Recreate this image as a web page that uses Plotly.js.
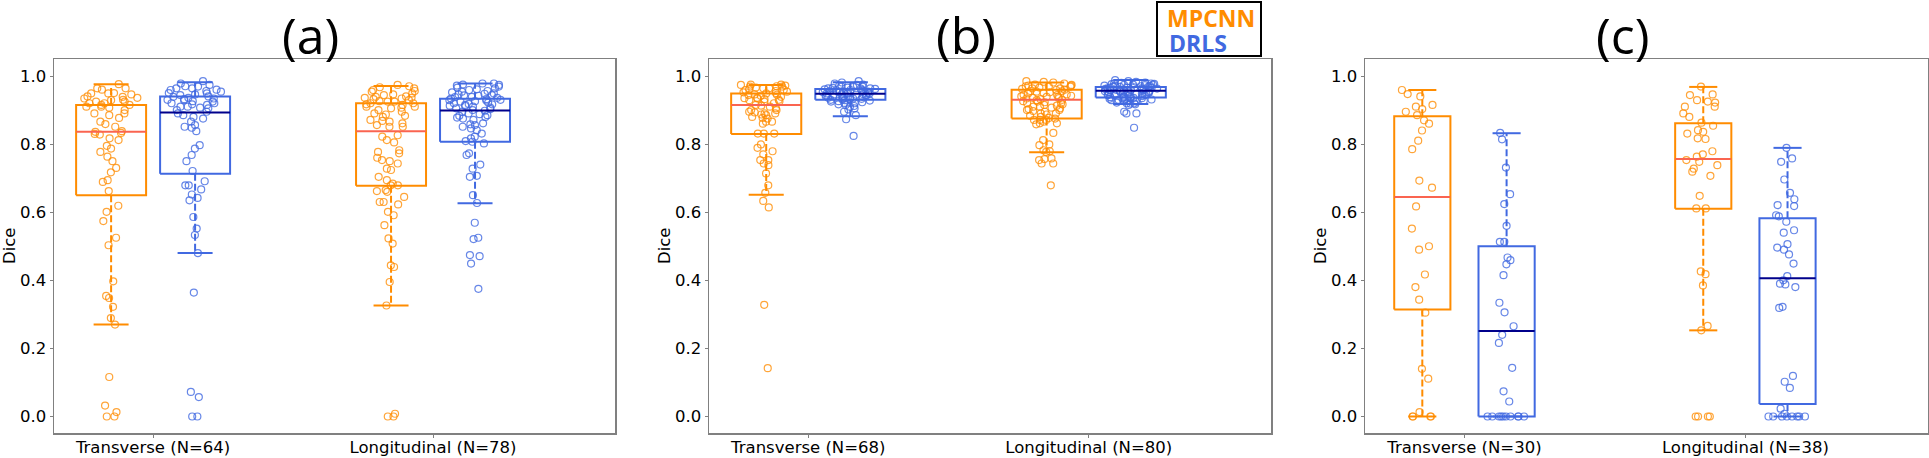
<!DOCTYPE html>
<html><head><meta charset="utf-8">
<script src="https://cdn.plot.ly/plotly-3.0.1.min.js"></script>
<style>html,body{margin:0;padding:0;background:#fff}#chart{width:1929px;height:458px}</style>
</head><body><div id="chart"></div>
<script>
// ---------------- DATA ----------------
const panelTitles = ['(a)', '(b)', '(c)'];
const catsA = ['Transverse (N=64)', 'Longitudinal (N=78)'];
const catsB = ['Transverse (N=68)', 'Longitudinal (N=80)'];
const catsC = ['Transverse (N=30)', 'Longitudinal (N=38)'];
const methods = ['MPCNN', 'DRLS'];
const yTicks = [0, 0.2, 0.4, 0.6, 0.8, 1.0];
const yTickLabels = ['0.0', '0.2', '0.4', '0.6', '0.8', '1.0'];

// box statistics: [lower whisker, Q1, median, Q3, upper whisker]
const a_trans_mpcnn_box = [0.27, 0.65, 0.836, 0.915, 0.976];
const a_trans_drls_box  = [0.48, 0.713, 0.893, 0.94, 0.982];
const a_long_mpcnn_box  = [0.326, 0.678, 0.838, 0.92, 0.971];
const a_long_drls_box   = [0.626, 0.807, 0.899, 0.933, 0.978];
const b_trans_mpcnn_box = [0.651, 0.83, 0.915, 0.949, 0.974];
const b_trans_drls_box  = [0.882, 0.93, 0.948, 0.962, 0.982];
const b_long_mpcnn_box  = [0.776, 0.875, 0.93, 0.96, 0.981];
const b_long_drls_box   = [0.918, 0.937, 0.957, 0.968, 0.988];
const c_trans_mpcnn_box = [0.0, 0.314, 0.645, 0.882, 0.959];
const c_trans_drls_box  = [0.0, 0.0, 0.251, 0.5, 0.832];
const c_long_mpcnn_box  = [0.253, 0.61, 0.756, 0.861, 0.968];
const c_long_drls_box   = [0.0, 0.037, 0.406, 0.582, 0.789];

// individual Dice scores
const a_trans_mpcnn = [0.976,0.964,0.964,0.949,0.949,0.946,0.939,0.936,0.934,0.929,0.925,0.925,0.92,0.915,0.915,0.91,0.907,0.90,0.89,0.89,0.885,0.877,0.866,0.859,0.851,0.838,0.836,0.833,0.828,0.817,0.812,0.795,0.787,0.777,0.763,0.75,0.73,0.717,0.694,0.689,0.662,0.619,0.601,0.574,0.525,0.503,0.397,0.348,0.354,0.322,0.289,0.27,0.116,0.032,0.013,0,0,0.94,0.93,0.92,0.91,0.96,0.95,0.83];
const a_trans_drls = [0.985,0.978,0.974,0.969,0.964,0.964,0.959,0.956,0.954,0.949,0.946,0.944,0.939,0.936,0.934,0.932,0.929,0.926,0.925,0.92,0.917,0.915,0.91,0.91,0.907,0.905,0.90,0.895,0.89,0.885,0.88,0.875,0.866,0.856,0.851,0.848,0.838,0.797,0.787,0.768,0.75,0.721,0.691,0.679,0.679,0.667,0.652,0.642,0.635,0.586,0.552,0.533,0.48,0.364,0.072,0.057,0,0,0.97,0.96,0.95,0.94,0.93,0.92];
const a_long_mpcnn = [0.974,0.967,0.964,0.959,0.956,0.954,0.949,0.946,0.944,0.939,0.936,0.936,0.934,0.932,0.929,0.926,0.925,0.925,0.92,0.92,0.917,0.915,0.91,0.91,0.907,0.905,0.90,0.895,0.89,0.887,0.883,0.88,0.871,0.868,0.866,0.861,0.856,0.851,0.851,0.826,0.822,0.812,0.805,0.782,0.777,0.773,0.76,0.753,0.75,0.743,0.728,0.724,0.704,0.694,0.684,0.679,0.679,0.665,0.662,0.66,0.645,0.63,0.63,0.623,0.601,0.591,0.562,0.523,0.508,0.444,0.439,0.395,0.326,0.008,0,0,0.97,0.94];
const a_long_drls = [0.978,0.978,0.975,0.974,0.972,0.969,0.966,0.964,0.961,0.959,0.956,0.954,0.952,0.949,0.946,0.944,0.942,0.939,0.936,0.934,0.932,0.929,0.926,0.925,0.92,0.917,0.915,0.913,0.91,0.907,0.905,0.90,0.895,0.89,0.885,0.883,0.88,0.875,0.871,0.861,0.858,0.856,0.851,0.846,0.841,0.831,0.822,0.817,0.809,0.807,0.802,0.773,0.768,0.74,0.728,0.707,0.704,0.65,0.627,0.569,0.525,0.521,0.474,0.471,0.449,0.375,0.948,0.943,0.938,0.93,0.928,0.922,0.918,0.912,0.903,0.898,0.888,0.878];
const b_trans_mpcnn = [0.975,0.975,0.974,0.972,0.969,0.969,0.966,0.964,0.964,0.961,0.959,0.956,0.954,0.952,0.949,0.946,0.944,0.942,0.939,0.936,0.934,0.932,0.929,0.926,0.925,0.92,0.915,0.913,0.905,0.90,0.90,0.895,0.893,0.89,0.887,0.885,0.88,0.877,0.875,0.866,0.866,0.831,0.831,0.831,0.799,0.789,0.779,0.77,0.753,0.753,0.743,0.738,0.714,0.679,0.657,0.633,0.614,0.328,0.142,0.97,0.96,0.95,0.945,0.935,0.93,0.91,0.89,0.86];
const b_trans_drls = [0.985,0.981,0.978,0.975,0.974,0.972,0.969,0.969,0.966,0.964,0.964,0.962,0.959,0.959,0.956,0.954,0.954,0.952,0.949,0.949,0.946,0.946,0.944,0.942,0.939,0.939,0.936,0.934,0.932,0.929,0.926,0.925,0.923,0.92,0.917,0.915,0.91,0.905,0.895,0.885,0.873,0.824,0.968,0.965,0.963,0.961,0.958,0.957,0.955,0.953,0.951,0.95,0.948,0.947,0.945,0.943,0.941,0.94,0.938,0.937,0.935,0.933,0.931,0.93,0.928,0.921,0.912,0.902];
const b_long_mpcnn = [0.985,0.983,0.981,0.978,0.975,0.974,0.972,0.972,0.969,0.969,0.966,0.964,0.964,0.962,0.959,0.956,0.954,0.952,0.949,0.946,0.944,0.942,0.939,0.939,0.936,0.934,0.932,0.929,0.926,0.925,0.923,0.92,0.917,0.915,0.913,0.91,0.907,0.905,0.903,0.90,0.897,0.895,0.89,0.887,0.883,0.88,0.877,0.875,0.871,0.871,0.871,0.866,0.861,0.861,0.858,0.833,0.812,0.799,0.797,0.782,0.779,0.777,0.758,0.756,0.753,0.743,0.743,0.679,0.97,0.96,0.955,0.95,0.945,0.94,0.935,0.93,0.92,0.91,0.90,0.89];
const b_long_drls = [0.988,0.985,0.983,0.981,0.978,0.978,0.975,0.975,0.974,0.972,0.972,0.969,0.969,0.967,0.966,0.966,0.964,0.964,0.962,0.959,0.959,0.956,0.956,0.954,0.954,0.952,0.949,0.949,0.946,0.944,0.944,0.942,0.939,0.936,0.934,0.934,0.932,0.929,0.926,0.925,0.92,0.92,0.917,0.915,0.895,0.89,0.89,0.848,0.98,0.977,0.976,0.973,0.971,0.97,0.968,0.965,0.963,0.961,0.96,0.958,0.957,0.955,0.953,0.951,0.95,0.948,0.947,0.945,0.943,0.941,0.94,0.938,0.937,0.935,0.933,0.931,0.93,0.928,0.922,0.919];
const c_trans_mpcnn = [0.959,0.94,0.947,0.91,0.915,0.903,0.895,0.885,0.87,0.86,0.84,0.81,0.785,0.693,0.672,0.617,0.552,0.5,0.49,0.417,0.38,0.343,0.305,0.14,0.111,0.013,0,0,0,0];
const c_trans_drls = [0.833,0.814,0.731,0.653,0.624,0.56,0.513,0.513,0.467,0.459,0.447,0.415,0.334,0.306,0.265,0.24,0.216,0.143,0.074,0.044,0,0,0,0,0,0,0,0,0,0];
const c_long_mpcnn = [0.969,0.946,0.944,0.929,0.925,0.922,0.91,0.91,0.89,0.88,0.863,0.854,0.841,0.836,0.831,0.817,0.815,0.779,0.77,0.763,0.753,0.748,0.738,0.728,0.719,0.707,0.648,0.611,0.611,0.426,0.418,0.385,0.266,0.253,0,0,0,0];
const c_long_drls = [0.789,0.758,0.748,0.696,0.657,0.638,0.621,0.618,0.591,0.588,0.572,0.547,0.54,0.506,0.496,0.49,0.476,0.449,0.412,0.40,0.39,0.388,0.38,0.319,0.322,0.119,0.102,0.084,0.023,0.008,0,0,0,0,0,0,0,0];

// ---------------- STYLE / LAYOUT ----------------
const W = 1929, H = 458;
const COL = {
  MPCNN: {line: '#FF8C00', pt: 'rgba(255,140,0,0.78)', med: '#FA6450', off: -0.15},
  DRLS:  {line: '#4169E1', pt: 'rgba(65,105,225,0.8)', med: '#00008B', off: 0.15}
};
const panels = [
  {cats: catsA, boxW: 0.25, MPCNN: [[a_trans_mpcnn, a_trans_mpcnn_box], [a_long_mpcnn, a_long_mpcnn_box]], DRLS: [[a_trans_drls, a_trans_drls_box], [a_long_drls, a_long_drls_box]]},
  {cats: catsB, boxW: 0.25, MPCNN: [[b_trans_mpcnn, b_trans_mpcnn_box], [b_long_mpcnn, b_long_mpcnn_box]], DRLS: [[b_trans_drls, b_trans_drls_box], [b_long_drls, b_long_drls_box]]},
  {cats: catsC, boxW: 0.2,  MPCNN: [[c_trans_mpcnn, c_trans_mpcnn_box], [c_long_mpcnn, c_long_mpcnn_box]], DRLS: [[c_trans_drls, c_trans_drls_box], [c_long_drls, c_long_drls_box]]}
];
const xPix = [[54, 615], [709, 1271], [1365, 1928]];
const yDom = [25 / H, 399 / H];

const traces = [];
const layout = {
  width: W, height: H, margin: {l: 0, r: 0, t: 0, b: 0},
  paper_bgcolor: '#fff', plot_bgcolor: '#fff', showlegend: false,
  boxmode: 'overlay', annotations: [], shapes: [],
  font: {family: 'DejaVu Sans', color: '#000'}
};

panels.forEach((p, k) => {
  const s = k === 0 ? '' : String(k + 1);
  const xa = 'x' + s, ya = 'y' + s;
  const dom = [xPix[k][0] / W, xPix[k][1] / W];
  layout['xaxis' + s] = {
    domain: dom, anchor: ya, range: [0.646, 2.65],
    tickmode: 'array', tickvals: [1, 2], ticktext: p.cats,
    showline: true, mirror: true, linecolor: '#808080', linewidth: 1.5,
    ticks: 'outside', ticklen: 3, tickcolor: '#808080', tickwidth: 1,
    ticklabelstandoff: -4,
    tickfont: {family: 'DejaVu Sans', size: 16.5, color: '#000'},
    showgrid: false, zeroline: false, fixedrange: true
  };
  layout['yaxis' + s] = {
    domain: yDom, anchor: xa, range: [-0.0485, 1.05],
    tickmode: 'array', tickvals: yTicks, ticktext: yTickLabels,
    showline: true, mirror: true, linecolor: '#808080', linewidth: 1.5,
    ticks: 'outside', ticklen: 3, tickcolor: '#808080', tickwidth: 1,
    tickfont: {family: 'DejaVu Sans', size: 16.5, color: '#000'},
    showgrid: false, zeroline: false, fixedrange: true
  };
  methods.forEach(m => {
    const c = COL[m];
    p[m].forEach(([pts, st], i) => {
      const cx = i + 1 + c.off, w = p.boxW;
      const [lo, q1, med, q3, hi] = st;
      traces.push({type: 'scatter', mode: 'lines', xaxis: xa, yaxis: ya, hoverinfo: 'skip',
        x: [cx - w / 2, cx + w / 2, cx + w / 2, cx - w / 2, cx - w / 2], y: [q1, q1, q3, q3, q1],
        line: {color: c.line, width: 2}});
      traces.push({type: 'scatter', mode: 'lines', xaxis: xa, yaxis: ya, hoverinfo: 'skip',
        x: [cx, cx, null, cx, cx], y: [q3, hi, null, q1, lo],
        line: {color: c.line, width: 2, dash: '7px,3px'}});
      traces.push({type: 'scatter', mode: 'lines', xaxis: xa, yaxis: ya, hoverinfo: 'skip',
        x: [cx - w / 4, cx + w / 4, null, cx - w / 4, cx + w / 4], y: [hi, hi, null, lo, lo],
        line: {color: c.line, width: 2}});
      traces.push({type: 'scatter', mode: 'lines', xaxis: xa, yaxis: ya, hoverinfo: 'skip',
        x: [cx - w / 2, cx + w / 2], y: [med, med],
        line: {color: c.med, width: 2}});
      traces.push({type: 'box', xaxis: xa, yaxis: ya, y: pts, x0: cx, width: w,
        boxpoints: 'all', jitter: 0.8, pointpos: 0, hoverinfo: 'skip',
        fillcolor: 'rgba(0,0,0,0)', line: {width: 0, color: 'rgba(0,0,0,0)'}, whiskerwidth: 0,
        marker: {symbol: 'circle-open', size: 7, color: c.pt, line: {width: 1.2, color: c.pt}}});
    });
  });
  const cxp = (xPix[k][0] + xPix[k][1]) / 2;
  layout.annotations.push({
    text: panelTitles[k], xref: 'paper', yref: 'paper', x: (cxp - 24) / W, y: 1,
    xanchor: 'center', yanchor: 'top', showarrow: false, borderpad: 0,
    font: {family: 'Open Sans', size: 50, color: '#000'}
  });
  layout.annotations.push({
    text: 'Dice', xref: 'paper', yref: 'paper', x: (xPix[k][0] - 45) / W, y: 1 - 246 / H,
    xanchor: 'center', yanchor: 'middle', textangle: -90, showarrow: false,
    font: {family: 'DejaVu Sans', size: 16.5, color: '#000'}
  });
});

layout.shapes.push({type: 'rect', xref: 'paper', yref: 'paper',
  x0: 1157 / W, x1: 1261 / W, y0: 1 - 56 / H, y1: 1 - 2 / H,
  line: {color: '#000', width: 2}, fillcolor: '#fff'});
layout.annotations.push({text: '<b>MPCNN</b>', xref: 'paper', yref: 'paper', x: 1165 / W, y: 1 - 18 / H,
  xanchor: 'left', yanchor: 'middle', showarrow: false, font: {family: 'Open Sans', size: 23, color: COL.MPCNN.line}});
layout.annotations.push({text: '<b>DRLS</b>', xref: 'paper', yref: 'paper', x: 1167 / W, y: 1 - 43 / H,
  xanchor: 'left', yanchor: 'middle', showarrow: false, font: {family: 'Open Sans', size: 23, color: COL.DRLS.line}});

Plotly.newPlot('chart', traces, layout, {staticPlot: true, displayModeBar: false});
</script></body></html>
